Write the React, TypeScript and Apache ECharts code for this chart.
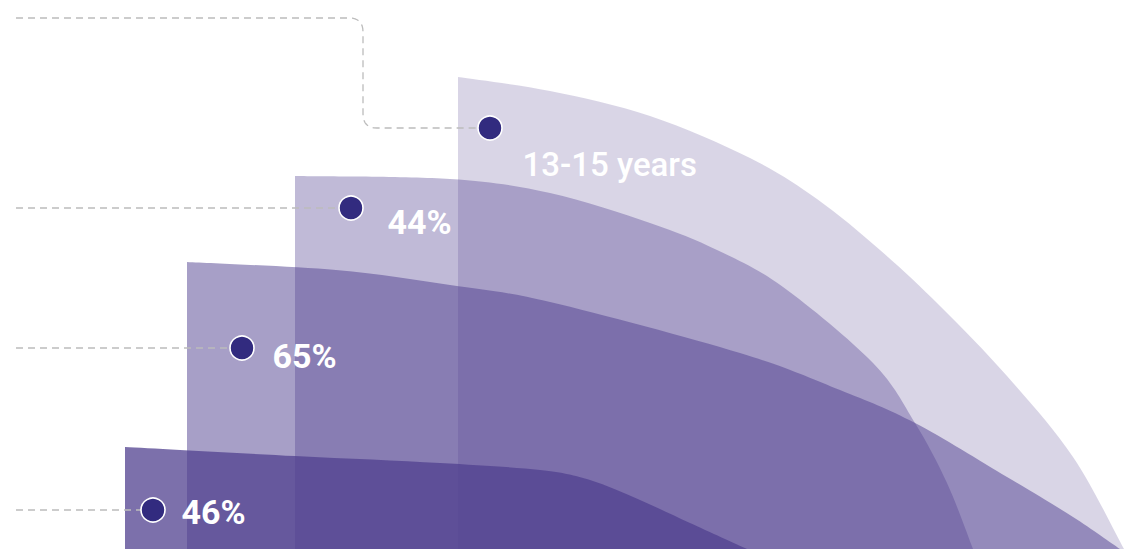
import { useEffect, useRef } from "react";
import * as echarts from "echarts";

// Axis extents (hidden value axes, y measured upward from the bottom edge)
const X_MAX = 1127;
const Y_MAX = 549;

// Outline of the top edge of each band: [x, height]
const band1Top = [[458, 472], [550, 458], [650, 433], [750, 391], [817, 350], [880, 299], [940, 243], [1007, 173], [1073, 92], [1124, 0]];
const band2Top = [[295, 373], [450, 370], [550, 356], [650, 326], [717, 299], [783, 262], [873, 186], [915, 126], [947, 66], [973, 0]];
const band3Top = [[187, 287], [336, 279], [450, 264], [550, 247], [740, 196], [840, 159], [915, 126], [1007, 72], [1073, 32], [1120, 0]];
const band4Top = [[125, 102], [295, 93], [440, 86], [540, 79], [590, 69], [640, 49], [690, 26], [747, 0]];
const bandOpacity = [0.22, 0.36, 0.5, 0.75];

// Markers and their labels
const markerPoints = [[490, 421], [351, 341], [242, 201], [153, 39]];
const labelTexts = ["13-15 years", "44%", "65%", "46%"];
const labelAnchors = [[522, 385], [387, 327], [272, 193], [181, 37]];
const labelWeights = [500, 700, 700, 700];
const labelSizes = [33, 34, 34, 34];

// Leader lines (corner vertices), rounded at corners
const leaderPaths = [
  [[16, 531], [363, 531], [363, 421], [490, 421]],
  [[16, 341], [351, 341]],
  [[16, 201], [242, 201]],
  [[16, 39], [153, 39]],
];
const CORNER_R = 14;

const BAND_RGB = "80,64,143";

function roundPath(pts: number[][], r: number): number[][] {
  const out: number[][] = [pts[0]];
  for (let i = 1; i < pts.length - 1; i++) {
    const [px, py] = pts[i - 1];
    const [cx, cy] = pts[i];
    const [nx, ny] = pts[i + 1];
    const d1x = Math.sign(cx - px), d1y = Math.sign(cy - py);
    const d2x = Math.sign(nx - cx), d2y = Math.sign(ny - cy);
    const a = [cx - d1x * r, cy - d1y * r];
    const b = [cx + d2x * r, cy + d2y * r];
    const steps = 8;
    for (let s = 0; s <= steps; s++) {
      const t = s / steps;
      const x = (1 - t) * (1 - t) * a[0] + 2 * (1 - t) * t * cx + t * t * b[0];
      const y = (1 - t) * (1 - t) * a[1] + 2 * (1 - t) * t * cy + t * t * b[1];
      out.push([x, y]);
    }
  }
  out.push(pts[pts.length - 1]);
  return out;
}

// Build a closed area path (vertical left edge, Catmull-Rom top edge, down to baseline)
function bandPath(api: any, pts: number[][]): string {
  const P = pts.map((p) => api.coord(p));
  const base0 = api.coord([pts[0][0], 0]);
  const baseN = api.coord([pts[pts.length - 1][0], 0]);
  let d = `M${base0[0]},${base0[1]} L${P[0][0]},${P[0][1]}`;
  for (let i = 0; i < P.length - 1; i++) {
    const p0 = P[i - 1] || P[i];
    const p1 = P[i];
    const p2 = P[i + 1];
    const p3 = P[i + 2] || P[i + 1];
    const c1x = p1[0] + (p2[0] - p0[0]) / 6;
    const c1y = p1[1] + (p2[1] - p0[1]) / 6;
    const c2x = p2[0] - (p3[0] - p1[0]) / 6;
    const c2y = p2[1] - (p3[1] - p1[1]) / 6;
    d += ` C${c1x},${c1y} ${c2x},${c2y} ${p2[0]},${p2[1]}`;
  }
  d += ` L${baseN[0]},${baseN[1]} Z`;
  return d;
}

export default function App() {
  const ref = useRef<HTMLDivElement>(null);
  useEffect(() => {
    if (!ref.current) return;
    const chart = echarts.init(ref.current, null, { renderer: "svg" });
    const bands = [band1Top, band2Top, band3Top, band4Top];
    const bandSeries = bands.map((d, i) => ({
      type: "custom",
      name: "band" + (i + 1),
      data: d,
      encode: { x: 0, y: 1 },
      clip: true,
      silent: true,
      z: 1,
      renderItem: (params: any, api: any) => {
        if (params.dataIndex !== 0) return null;
        return {
          type: "path",
          shape: { pathData: bandPath(api, d) },
          style: { fill: `rgba(${BAND_RGB},${bandOpacity[i]})`, stroke: "none" },
        };
      },
    }));
    const leaderSeries = leaderPaths.map((p, i) => ({
      type: "line",
      name: "leader" + i,
      data: roundPath(p, CORNER_R),
      symbol: "none",
      smooth: false,
      lineStyle: { color: "#bcbcbc", width: 1.3, type: [7, 5] },
      z: 3,
      silent: true,
    }));
    chart.setOption({
      animation: false,
      backgroundColor: "#ffffff",
      grid: { left: 0, right: 0, top: 0, bottom: 0, containLabel: false },
      xAxis: { type: "value", min: 0, max: X_MAX, show: false },
      yAxis: { type: "value", min: 0, max: Y_MAX, show: false },
      series: [
        ...bandSeries,
        ...leaderSeries,
        {
          type: "scatter",
          name: "markers",
          data: markerPoints,
          symbol: "circle",
          symbolSize: 24,
          itemStyle: { color: "#322b7f", borderColor: "#ffffff", borderWidth: 1.6, opacity: 1 },
          z: 5,
          silent: true,
        },
        {
          type: "scatter",
          name: "labels",
          data: labelAnchors.map((p, i) => ({
            value: p,
            name: labelTexts[i],
            label: { fontWeight: labelWeights[i], fontSize: labelSizes[i] },
          })),
          symbol: "circle",
          symbolSize: 1,
          itemStyle: { color: "rgba(0,0,0,0)", opacity: 1 },
          label: {
            show: true,
            position: "right",
            distance: 0,
            formatter: (p: any) => p.name,
            color: "#ffffff",
            opacity: 1,
            fontFamily: "Roboto",
            fontSize: 34,
            fontWeight: 700,
          },
          z: 6,
          silent: true,
        },
      ],
    });
    return () => chart.dispose();
  }, []);
  return (
    <div
      ref={ref}
      style={{ position: "fixed", left: 0, top: 0, width: X_MAX, height: Y_MAX }}
    />
  );
}
